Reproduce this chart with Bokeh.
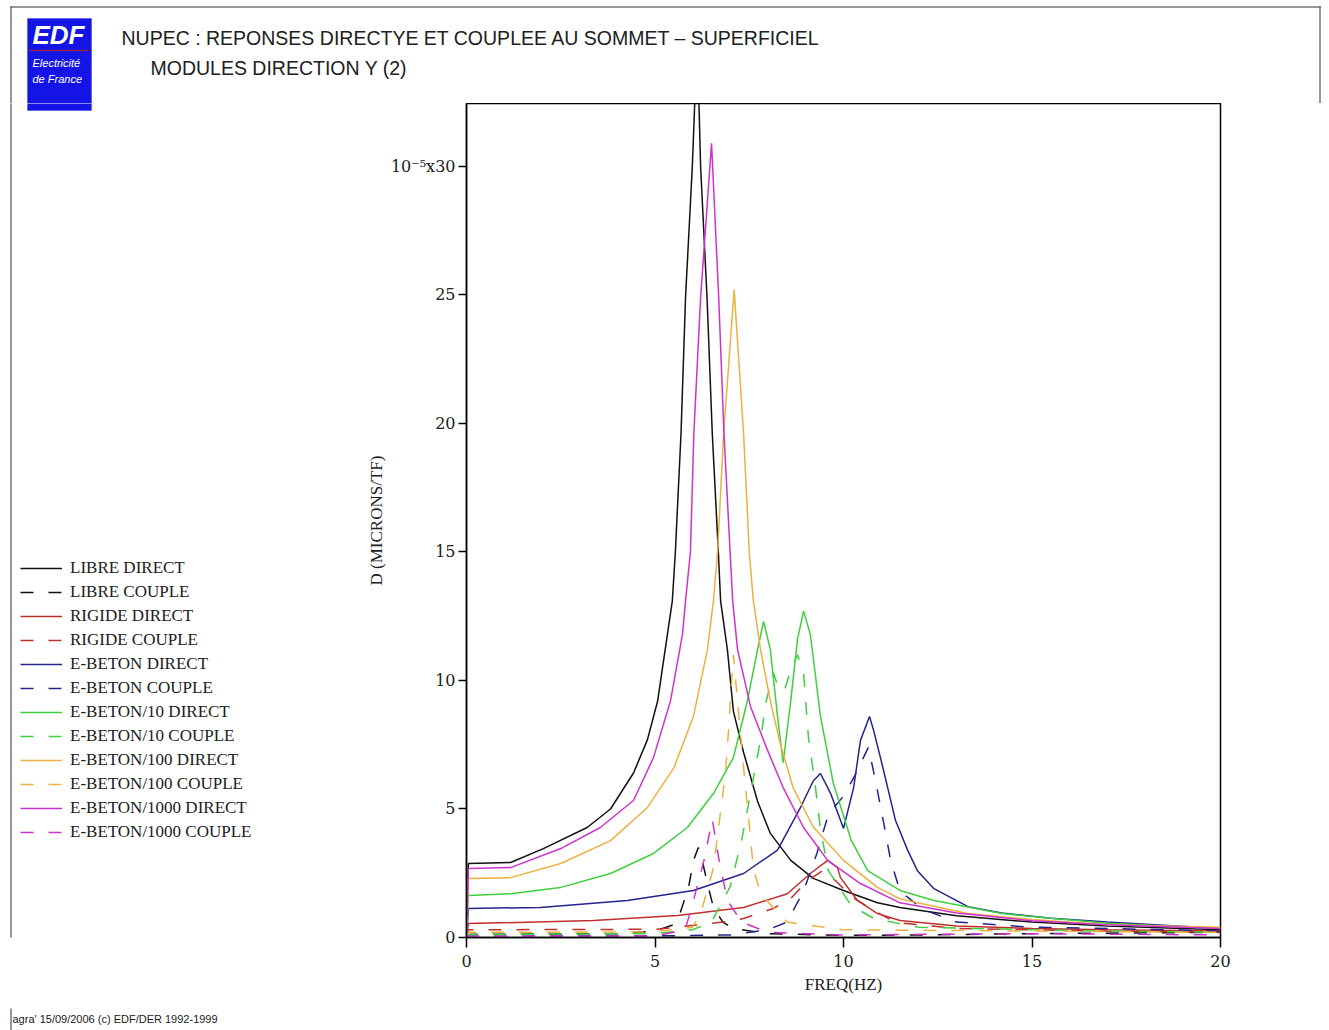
from bokeh.plotting import figure
from bokeh.layouts import column, row
from bokeh.models import Range1d, FixedTicker, Label, BoxAnnotation, Legend, LegendItem
from bokeh.embed import file_html
from bokeh.resources import INLINE

# ---------------- data (frequency in Hz, displacement in 1e-5 microns/TF) ----------------
libre_direct_f = [0, 0.05, 1.17, 2.04, 3.2, 3.82, 4.43, 4.8, 5.07, 5.23, 5.46, 5.54, 5.69, 5.81, 5.99, 6.12,
                  6.21, 6.38, 6.52, 6.68, 6.74, 6.92, 7.08, 7.35, 7.72, 8.06, 8.6, 9.2, 10.0, 10.9, 11.5, 13.0, 15.0, 17.0, 20.0]
libre_direct_d = [0, 2.88, 2.92, 3.46, 4.28, 5.0, 6.4, 7.7, 9.2, 10.8, 13.1, 15.0, 19.6, 24.9, 30.0, 35.0,
                  30.0, 24.9, 19.6, 15.0, 13.1, 11.2, 8.8, 7.2, 5.3, 4.05, 3.0, 2.3, 1.83, 1.35, 1.17, 0.85, 0.6, 0.45, 0.3]

libre_couple_f = [0, 0.05, 4.0, 5.0, 5.5, 5.67, 5.89, 6.02, 6.15, 6.21, 6.39, 6.55, 6.8, 7.08, 8.0, 10.0, 12.0, 15.0, 20.0]
libre_couple_d = [0, 0.12, 0.15, 0.25, 0.5, 0.97, 1.95, 3.0, 3.5, 3.27, 2.1, 1.17, 0.6, 0.35, 0.15, 0.08, 0.1, 0.15, 0.2]

rigide_direct_f = [0, 0.05, 3.37, 5.6, 7.35, 8.51, 9.12, 9.58, 9.84, 9.92, 10.37, 10.9, 11.5, 13.0, 15.0, 17.0, 20.0]
rigide_direct_d = [0, 0.54, 0.66, 0.86, 1.17, 1.7, 2.49, 3.0, 2.72, 2.33, 1.44, 0.93, 0.66, 0.45, 0.35, 0.3, 0.25]

rigide_couple_f = [0, 0.05, 5.0, 5.5, 6.8, 7.35, 8.14, 8.6, 9.04, 9.45, 9.8, 10.2, 10.8, 11.4, 13.0, 15.0, 17.0, 20.0]
rigide_couple_d = [0, 0.3, 0.32, 0.39, 0.6, 0.74, 1.13, 1.52, 2.2, 2.6, 2.2, 1.6, 1.05, 0.58, 0.35, 0.3, 0.25, 0.2]

beton_direct_f = [0, 0.05, 1.96, 4.27, 6.02, 7.35, 8.25, 8.86, 9.2, 9.39, 9.66, 10.0, 10.27, 10.45, 10.69, 10.8,
                  10.98, 11.17, 11.38, 11.7, 11.96, 12.4, 13.3, 14.2, 15.5, 17.0, 20.0]
beton_direct_d = [0, 1.13, 1.17, 1.44, 1.83, 2.49, 3.4, 5.06, 6.1, 6.38, 5.6, 4.24, 5.84, 7.67, 8.6, 8.05,
                  7.0, 5.84, 4.55, 3.4, 2.6, 1.9, 1.2, 0.95, 0.75, 0.6, 0.35]

beton_couple_f = [0, 0.05, 5.0, 7.0, 8.0, 8.5, 8.94, 9.3, 9.6, 10.0, 10.3, 10.66, 10.85, 11.1, 11.25, 11.5, 12.1, 13.0, 15.0, 17.0, 20.0]
beton_couple_d = [0, 0.05, 0.06, 0.1, 0.3, 0.6, 1.8, 3.3, 4.8, 5.5, 6.3, 7.4, 6.1, 4.2, 3.0, 1.8, 1.1, 0.6, 0.4, 0.35, 0.25]

beton10_direct_f = [0, 0.05, 1.17, 2.5, 3.82, 4.96, 5.86, 6.55, 7.08, 7.45, 7.72, 7.88, 8.06, 8.25, 8.4, 8.6, 8.78, 8.94,
                    9.12, 9.39, 9.73, 10.2, 10.64, 11.5, 12.4, 14.2, 15.5, 17.0, 20.0]
beton10_direct_d = [0, 1.63, 1.7, 1.95, 2.49, 3.27, 4.28, 5.6, 7.0, 9.2, 11.2, 12.3, 11.2, 8.6, 6.8, 9.2, 11.6, 12.7,
                    11.8, 8.6, 6.0, 3.8, 2.6, 1.83, 1.44, 0.93, 0.75, 0.55, 0.35]

beton10_couple_f = [0, 0.05, 5.0, 6.0, 6.5, 7.0, 7.3, 7.61, 7.8, 7.95, 8.14, 8.3, 8.45, 8.6, 8.78, 8.94, 9.07, 9.26,
                    9.39, 9.6, 10.2, 10.8, 12.0, 15.0, 17.0, 20.0]
beton10_couple_d = [0, 0.12, 0.15, 0.3, 0.6, 2.0, 3.8, 6.2, 7.7, 9.2, 10.3, 9.6, 9.7, 10.4, 11.0, 10.3, 7.8, 5.8,
                    4.2, 2.6, 1.25, 0.74, 0.4, 0.3, 0.25, 0.2]

beton100_direct_f = [0, 0.05, 1.17, 2.5, 3.82, 4.8, 5.5, 6.02, 6.39, 6.55, 6.66, 6.82, 7.1, 7.35, 7.5, 7.61, 7.8,
                     8.06, 8.33, 8.67, 9.2, 10.0, 10.9, 11.5, 13.3, 15.0, 17.0, 20.0]
beton100_direct_d = [0, 2.3, 2.33, 2.88, 3.77, 5.06, 6.6, 8.6, 11.2, 13.1, 15.0, 19.6, 25.2, 19.6, 15.0, 13.1, 11.2,
                     9.2, 7.5, 5.8, 4.3, 3.0, 1.95, 1.5, 0.93, 0.7, 0.5, 0.4]

beton100_couple_f = [0, 0.05, 5.0, 6.0, 6.21, 6.55, 6.87, 6.95, 7.08, 7.2, 7.35, 7.61, 7.8, 8.5, 10.0, 15.0, 20.0]
beton100_couple_d = [0, 0.2, 0.22, 0.4, 0.93, 2.7, 6.4, 8.05, 11.0, 9.0, 6.6, 2.7, 1.7, 0.6, 0.3, 0.25, 0.2]

beton1000_direct_f = [0, 0.05, 1.17, 2.5, 3.55, 4.43, 4.96, 5.41, 5.73, 5.81, 5.94, 6.03, 6.21, 6.5, 6.69, 6.83,
                      7.06, 7.19, 7.53, 7.98, 8.41, 8.94, 9.58, 10.45, 11.5, 13.0, 15.0, 17.0, 20.0]
beton1000_direct_d = [0, 2.68, 2.72, 3.46, 4.28, 5.33, 7.0, 9.2, 11.8, 13.1, 15.0, 19.6, 24.9, 30.9, 24.9, 19.6,
                      13.1, 11.2, 9.0, 7.3, 5.8, 4.28, 3.0, 2.1, 1.35, 0.95, 0.65, 0.5, 0.35]

beton1000_couple_f = [0, 0.05, 5.0, 5.8, 6.02, 6.3, 6.52, 6.7, 6.92, 7.3, 8.0, 10.0, 15.0, 20.0]
beton1000_couple_d = [0, 0.05, 0.06, 0.3, 1.44, 3.0, 4.6, 3.0, 1.44, 0.6, 0.2, 0.1, 0.15, 0.1]

series_names = ["LIBRE DIRECT", "LIBRE COUPLE", "RIGIDE DIRECT", "RIGIDE COUPLE",
                "E-BETON DIRECT", "E-BETON COUPLE", "E-BETON/10 DIRECT", "E-BETON/10 COUPLE",
                "E-BETON/100 DIRECT", "E-BETON/100 COUPLE", "E-BETON/1000 DIRECT", "E-BETON/1000 COUPLE"]
series_f = [libre_direct_f, libre_couple_f, rigide_direct_f, rigide_couple_f,
            beton_direct_f, beton_couple_f, beton10_direct_f, beton10_couple_f,
            beton100_direct_f, beton100_couple_f, beton1000_direct_f, beton1000_couple_f]
series_d = [libre_direct_d, libre_couple_d, rigide_direct_d, rigide_couple_d,
            beton_direct_d, beton_couple_d, beton10_direct_d, beton10_couple_d,
            beton100_direct_d, beton100_couple_d, beton1000_direct_d, beton1000_couple_d]

x_ticks = [0, 5, 10, 15, 20]
y_ticks = [0, 5, 10, 15, 20, 25, 30]

# ---------------- styles / layout ----------------
colors = ["#111111", "#111111", "#c0302a", "#c0302a", "#24248c", "#24248c",
          "#3fcf3f", "#3fcf3f", "#eeb040", "#eeb040", "#cc33cc", "#cc33cc"]
dashes = ["solid", "13 15"] * 6

TOTAL_W, TOTAL_H = 1322, 1030
HEAD_H = 103
FOOT_H = 22
LEFT_W = 300
FL, FR, FT, FB = 466, 1220, 103, 937   # plot frame edges in page pixels
BORDER = "#606060"
LOGO = "#1414e6"


def box(fig, l, r, t, b, color):
    fig.add_layout(BoxAnnotation(left=l, right=r, top=t, bottom=b,
                                 left_units="screen", right_units="screen",
                                 top_units="screen", bottom_units="screen",
                                 fill_color=color, fill_alpha=1.0, line_color=color, line_width=1))


def blank(w, h):
    f = figure(width=w, height=h, output_backend="svg", toolbar_location=None, title=None,
               x_axis_type=None, y_axis_type=None, min_border=0,
               x_range=Range1d(0, 1), y_range=Range1d(0, 1))
    f.grid.visible = False
    f.outline_line_color = None
    return f


# ---------------- header (titles + EDF logo) ----------------
head = blank(TOTAL_W, HEAD_H)
hy = lambda y: HEAD_H - y   # page y -> header screen y (upwards)
box(head, 10, 1320, hy(6), hy(7), BORDER)            # page border top
box(head, 10, 11, hy(6), hy(HEAD_H + 3), BORDER)     # page border left
box(head, 1319, 1320, hy(6), hy(HEAD_H + 3), BORDER) # page border right
box(head, 27, 91, hy(18), hy(HEAD_H + 3), LOGO)      # logo
box(head, 29, 89, hy(49.5), hy(50.5), "#a02040")
head.add_layout(Label(x=32, y=hy(19), x_units="screen", y_units="screen", text_baseline="top",
                      text="EDF", text_font="Liberation Sans", text_font_size="26px",
                      text_font_style="bold italic", text_color="white"))
head.add_layout(Label(x=32, y=hy(56), x_units="screen", y_units="screen", text_baseline="top",
                      text="Electricit\u00e9", text_font="Liberation Sans", text_font_size="11px",
                      text_font_style="italic", text_color="white"))
head.add_layout(Label(x=32, y=hy(72), x_units="screen", y_units="screen", text_baseline="top",
                      text="de France", text_font="Liberation Sans", text_font_size="11px",
                      text_font_style="italic", text_color="white"))
head.add_layout(Label(x=121, y=hy(26), x_units="screen", y_units="screen", text_baseline="top",
                      text="NUPEC : REPONSES DIRECTYE ET COUPLEE AU SOMMET \u2013 SUPERFICIEL",
                      text_font="Liberation Sans", text_font_size="19.5px", text_color="#202020"))
head.add_layout(Label(x=150, y=hy(56), x_units="screen", y_units="screen", text_baseline="top",
                      text="MODULES DIRECTION Y (2)",
                      text_font="Liberation Sans", text_font_size="19.5px", text_color="#202020"))

# ---------------- main plot ----------------
MID_BOTTOM = TOTAL_H - FOOT_H
PH = MID_BOTTOM - HEAD_H
MB_TOP, MB_BOTTOM = FT - HEAD_H, MID_BOTTOM - FB
p = figure(width=TOTAL_W - LEFT_W, height=PH, output_backend="svg", toolbar_location=None, title=None,
           x_range=Range1d(0, 20), y_range=Range1d(0, 32.45),
           min_border_left=FL - LEFT_W, min_border_right=TOTAL_W - FR,
           min_border_top=MB_TOP, min_border_bottom=MB_BOTTOM)
p.grid.visible = False
p.outline_line_color = "black"
p.outline_line_width = 1.5

p.xaxis.ticker = FixedTicker(ticks=x_ticks)
p.yaxis.ticker = FixedTicker(ticks=y_ticks)
p.yaxis.major_label_overrides = {30: "10\u207b\u2075x30"}
for ax in (p.xaxis[0], p.yaxis[0]):
    ax.minor_tick_line_color = None
    ax.major_tick_in = 0
    ax.axis_line_color = "black"
    ax.axis_line_width = 1.5
    ax.major_tick_line_color = "black"
    ax.major_tick_line_width = 1.5
    ax.major_label_text_font = "DejaVu Serif"
    ax.major_label_text_font_size = "16px"
    ax.major_label_text_color = "#202020"
    ax.axis_label_text_font = "Liberation Serif"
    ax.axis_label_text_font_size = "17px"
    ax.axis_label_text_font_style = "normal"
    ax.axis_label_text_color = "#202020"
p.xaxis.major_tick_out = 10
p.yaxis.major_tick_out = 8
p.xaxis.major_label_standoff = 7
p.yaxis.major_label_standoff = 3
p.xaxis.axis_label = "FREQ(HZ)"
p.yaxis.axis_label = "D (MICRONS/TF)"
p.xaxis.axis_label_standoff = 5
p.yaxis.axis_label_standoff = 2

for f, d, c, dash in zip(series_f, series_d, colors, dashes):
    p.line(f, d, line_color=c, line_width=1.5, line_dash=dash)

# ---------------- left panel: legend ----------------
side = figure(width=LEFT_W, height=PH, output_backend="svg", toolbar_location=None, title=None,
              x_axis_type=None, y_axis_type=None,
              min_border_left=0, min_border_right=0, min_border_top=MB_TOP, min_border_bottom=MB_BOTTOM,
              x_range=Range1d(0, 20), y_range=Range1d(0, 32.45))
side.grid.visible = False
side.outline_line_color = None
ly = lambda y: FB - y   # page y -> side screen y (upwards from its frame bottom)
box(side, 10, 11, ly(FT - 3), ly(FB + 3), BORDER)      # page border left
box(side, 27, 91, ly(FT - 3), ly(110), LOGO)           # logo bottom part
items = []
for name, f, d, c, dash in zip(series_names, series_f, series_d, colors, dashes):
    r = side.line(f, d, line_color=c, line_width=1.5, line_dash=dash, visible=False)
    items.append(LegendItem(label=name, renderers=[r]))
legend = Legend(items=items, location=(20, ly(844)), glyph_width=42, glyph_height=24,
                label_height=24, spacing=0, padding=0, margin=0, label_standoff=8,
                background_fill_alpha=0, border_line_color=None, inactive_fill_alpha=0,
                label_text_font="Liberation Serif", label_text_font_size="17px", label_text_color="#202020")
side.add_layout(legend, "center")

# ---------------- footer ----------------
foot = blank(TOTAL_W, FOOT_H)
fy = lambda y: TOTAL_H - y
box(foot, 10, 11, fy(MID_BOTTOM - 3), fy(TOTAL_H + 3), BORDER)
foot.add_layout(Label(x=12, y=fy(1012), x_units="screen", y_units="screen", text_baseline="top",
                      text="agra' 15/09/2006 (c) EDF/DER 1992-1999", text_font="Liberation Sans",
                      text_font_size="11px", text_color="#202020"))

layout = column(head, row(side, p, spacing=0), foot, spacing=0)
open("out.html", "w").write(file_html(layout, INLINE))
